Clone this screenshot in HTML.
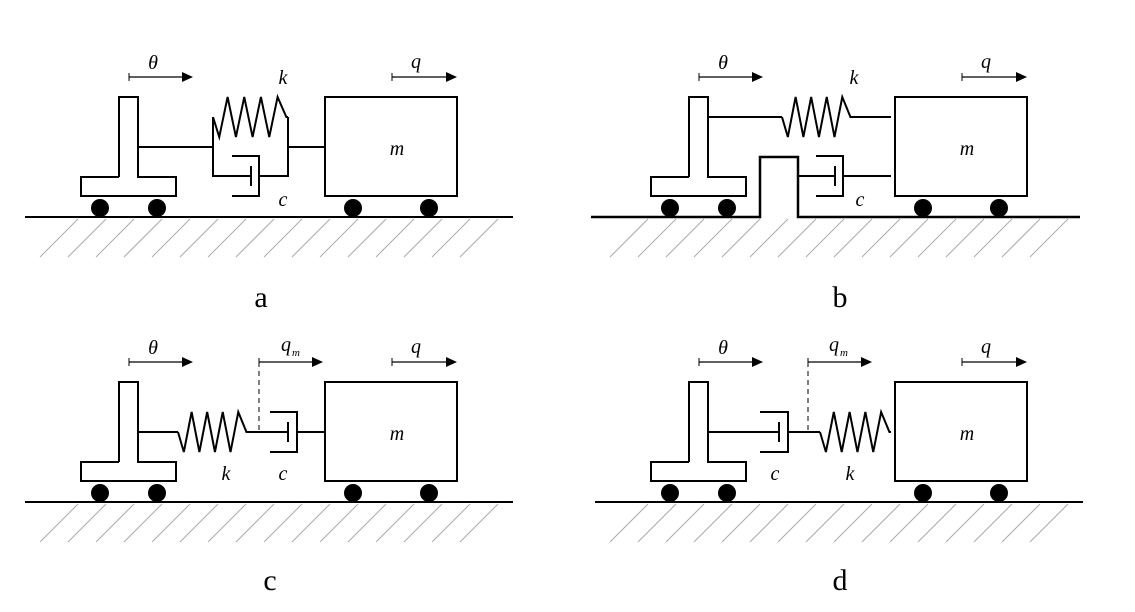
<!DOCTYPE html>
<html><head><meta charset="utf-8"><style>
body{margin:0;background:#fff}
svg{display:block}
text{font-family:"Liberation Serif",serif}
</style></head><body>
<svg id="fig" width="1135" height="612" viewBox="0 0 1135 612"></svg>
<script>
const NS='http://www.w3.org/2000/svg';
const svg=document.getElementById('fig');
function el(tag,attrs,parent,name){const e=document.createElementNS(NS,tag);for(const k in attrs)e.setAttribute(k,attrs[k]);


(parent||svg).appendChild(e);return e;}
function line(g,x1,y1,x2,y2,name,extra){return el('line',Object.assign({x1,y1,x2,y2,stroke:'#000','stroke-width':2},extra||{}),g,name);}
function poly(g,pts,name,extra){return el('polyline',Object.assign({points:pts.map(p=>p.join(',')).join(' '),fill:'none',stroke:'#000','stroke-width':2},extra||{}),g,name);}
function txt(g,x,y,s,size,italic,name){const t=el('text',{x,y,'font-size':size,'font-style':italic?'italic':'normal','text-anchor':'middle'},g,name);t.textContent=s;return t;}
function arrow(g,x1,x2,y,name){line(g,x1,y,x2-8,y,name,{'stroke-width':1.3});line(g,x1,y-4,x1,y+4,name+'-tick',{'stroke-width':1});el('polygon',{points:`${x2},${y} ${x2-11},${y-5} ${x2-11},${y+5}`,fill:'#000'},g,name+'-head');}
function spring(g,x1,x2,y,amp,name){const n=8;const s=(x2-x1)/(n+1);let pts=[[x1,y]];
 for(let i=0;i<n;i++){pts.push([x1+s*(i+0.75),i%2===0?y+amp:y-amp]);}
 pts.push([x2-s*0.2,y]);pts.push([x2,y]);poly(g,pts,name);}
function damper(g,xl,xr,y,pist,name){
 poly(g,[[xl,y-20],[xr,y-20],[xr,y+20],[xl,y+20]],name+'-cup');line(g,pist,y-10,pist,y+10,name+'-piston');}
function base(g,ox,oy,notch){
 if(notch){poly(g,[[ox+21,oy+217],[ox+190,oy+217],[ox+190,oy+157],[ox+228,oy+157],[ox+228,oy+217],[ox+510,oy+217]],'ground-line',{'stroke-width':2.5});}
 else line(g,ox+25,oy+217,ox+513,oy+217,'ground-line');
 for(let x=ox+40;x+38<=ox+506;x+=28){const x0=Math.max(x,ox+30);line(g,x0,oy+257-(x0-x),x+38,oy+219,'ground-hatch',{stroke:'#aaa','stroke-width':1});}
 poly(g,[[ox+119,oy+177],[ox+119,oy+97],[ox+138,oy+97],[ox+138,oy+177],[ox+176,oy+177],[ox+176,oy+196],[ox+81,oy+196],[ox+81,oy+177],[ox+119,oy+177]],'t-support');
 el('circle',{cx:ox+100,cy:oy+208,r:9,fill:'#000'},g,'support-wheel');
 el('circle',{cx:ox+157,cy:oy+208,r:9,fill:'#000'},g,'support-wheel');
 el('rect',{x:ox+325,y:oy+97,width:132,height:99,fill:'none',stroke:'#000','stroke-width':2},g,'mass-block');
 el('circle',{cx:ox+353,cy:oy+208,r:9,fill:'#000'},g,'mass-wheel');
 el('circle',{cx:ox+429,cy:oy+208,r:9,fill:'#000'},g,'mass-wheel');
 txt(g,ox+397,oy+155,'m',20,true,'mass-label');
 arrow(g,ox+129,ox+193,oy+77,'theta-arrow');txt(g,ox+153,oy+69,'θ',20,true,'theta-label');
 arrow(g,ox+392,ox+457,oy+77,'q-arrow');txt(g,ox+416,oy+68,'q',20,true,'q-label');
}
function panel(id,ox,oy){const g=el('g',{},svg,'panel-'+id);
 if(id==='a'){base(g,ox,oy,false);
  line(g,138,oy+147,213,oy+147,'rod');poly(g,[[213,oy+117],[213,oy+176],[251,oy+176]],'parallel-frame-left');
  poly(g,[[259,oy+176],[288,oy+176],[288,oy+117]],'parallel-frame-right');
  spring(g,213,288,oy+117,20,'spring-k');damper(g,232,259,oy+176,251,'damper-c');
  line(g,288,oy+147,325,oy+147,'rod');
  txt(g,283,oy+84,'k',20,true,'k-label');txt(g,283,oy+206,'c',20,true,'c-label');}
 if(id==='b'){base(g,ox,oy,true);
  line(g,ox+138,oy+117,ox+212,oy+117,'rod');spring(g,ox+212,ox+282,oy+117,20,'spring-k');line(g,ox+282,oy+117,ox+321,oy+117,'rod');
  line(g,ox+228,oy+176,ox+265,oy+176,'rod');damper(g,ox+246,ox+273,oy+176,ox+265,'damper-c');line(g,ox+273,oy+176,ox+321,oy+176,'rod');
  txt(g,ox+284,oy+84,'k',20,true,'k-label');txt(g,ox+290,oy+206,'c',20,true,'c-label');}
 if(id==='c'){base(g,ox,oy,false);
  line(g,138,oy+147,178,oy+147,'rod');spring(g,178,248,oy+147,20,'spring-k');line(g,248,oy+147,288,oy+147,'rod');
  damper(g,270,297,oy+147,288,'damper-c');line(g,297,oy+147,325,oy+147,'rod');
  line(g,259,oy+77,259,oy+147,'qm-dashed-line',{'stroke-width':1,'stroke-dasharray':'5,4'});
  arrow(g,259,323,oy+77,'qm-arrow');txt(g,286,oy+66,'q',20,true,'qm-label');txt(g,296,oy+71,'m',11,true,'qm-subscript');
  txt(g,226,oy+195,'k',20,true,'k-label');txt(g,283,oy+195,'c',20,true,'c-label');}
 if(id==='d'){base(g,ox,oy,false);
  line(g,ox+138,oy+147,ox+209,oy+147,'rod');damper(g,ox+190,ox+218,oy+147,ox+209,'damper-c');
  line(g,ox+218,oy+147,ox+250,oy+147,'rod');spring(g,ox+250,ox+321,oy+147,20,'spring-k');
  line(g,ox+238,oy+77,ox+238,oy+147,'qm-dashed-line',{'stroke-width':1,'stroke-dasharray':'5,4'});
  arrow(g,ox+238,ox+302,oy+77,'qm-arrow');txt(g,ox+264,oy+66,'q',20,true,'qm-label');txt(g,ox+274,oy+71,'m',11,true,'qm-subscript');
  txt(g,ox+205,oy+195,'c',20,true,'c-label');txt(g,ox+280,oy+195,'k',20,true,'k-label');}
}
panel('a',0,0);panel('b',570,0);panel('c',0,285);panel('d',570,285);
const labels=[['a',261,307],['b',840,307],['c',270,590],['d',840,590]];
labels.forEach(l=>{txt(svg,l[1],l[2],l[0],30,false,'panel-label-'+l[0]);});
</script>
</body></html>
